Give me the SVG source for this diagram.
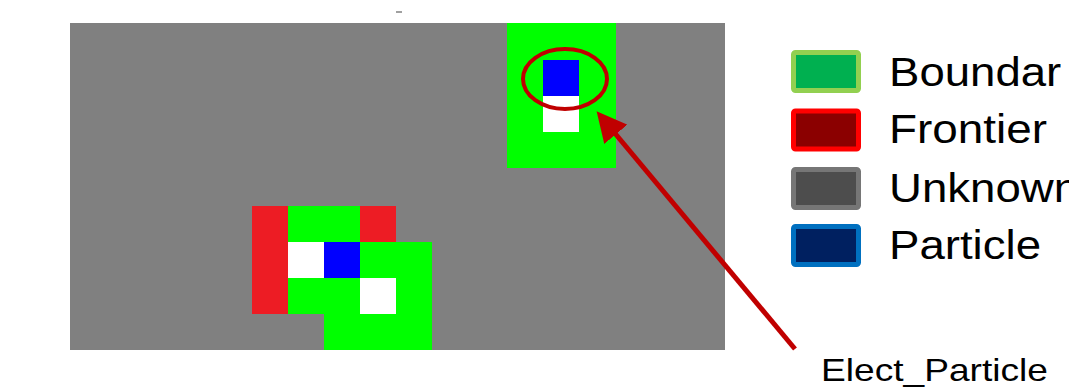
<svg xmlns="http://www.w3.org/2000/svg" width="1069" height="387" viewBox="0 0 1069 387">
<style>
.g{fill:#00ff00}.r{fill:#ed1c24}.w{fill:#ffffff}.b{fill:#0000ff}
.lg{stroke-width:5}
.t{font-family:"Liberation Sans",Arial,sans-serif;font-size:40px;fill:#000}
</style>
<defs>
<marker id="ah" markerWidth="6" markerHeight="6" refX="4" refY="3" orient="auto" markerUnits="strokeWidth">
<path d="M0,0 L6,3 L0,6 z" fill="#c00000"/>
</marker>
<clipPath id="clipB"><rect x="880" y="40" width="181" height="60"/></clipPath>
</defs>
<rect x="396" y="11" width="6" height="2" fill="#a0a0a0"/>
<g id="map">
<rect x="70" y="23" width="655" height="327" fill="#808080"/>
<rect class="g" x="507" y="23" width="109" height="145"/>
<rect class="b" x="543" y="60" width="36" height="36"/>
<rect class="w" x="543" y="96" width="36" height="36"/>
<rect class="r" x="252" y="206" width="36" height="108"/>
<rect class="g" x="288" y="206" width="72" height="36"/>
<rect class="r" x="360" y="206" width="36" height="36"/>
<rect class="w" x="288" y="242" width="36" height="36"/>
<rect class="b" x="324" y="242" width="36" height="36"/>
<rect class="g" x="360" y="242" width="72" height="36"/>
<rect class="g" x="288" y="278" width="72" height="36"/>
<rect class="w" x="360" y="278" width="36" height="36"/>
<rect class="g" x="396" y="278" width="36" height="36"/>
<rect class="g" x="324" y="314" width="108" height="36"/>
</g>
<g id="highlight">
<ellipse cx="565" cy="79" rx="42" ry="30" fill="none" stroke="#c00000" stroke-width="4"/>
</g>
<g id="connectors">
<line x1="795" y1="349" x2="603" y2="119" stroke="#c00000" stroke-width="5" marker-end="url(#ah)"/>
</g>
<g id="legend-boundary">
<rect class="lg" x="793.5" y="52.5" width="65" height="38" rx="2" fill="#00b050" stroke="#92d050"/>
<text class="t" x="889" y="86" textLength="195" lengthAdjust="spacingAndGlyphs" clip-path="url(#clipB)">Boundary</text>
</g>
<g id="legend-frontier">
<rect class="lg" x="793.5" y="111" width="65" height="38" rx="2" fill="#8b0000" stroke="#ff0000"/>
<text class="t" x="889" y="143" textLength="158" lengthAdjust="spacingAndGlyphs">Frontier</text>
</g>
<g id="legend-unknown">
<rect class="lg" x="793.5" y="169.5" width="65" height="38" rx="2" fill="#4d4d4d" stroke="#767676"/>
<text class="t" x="889" y="202" textLength="190" lengthAdjust="spacingAndGlyphs">Unknown</text>
</g>
<g id="legend-particle">
<rect class="lg" x="793.5" y="226.5" width="65" height="38" rx="2" fill="#002060" stroke="#0070c0"/>
<text class="t" x="889" y="259" textLength="152" lengthAdjust="spacingAndGlyphs">Particle</text>
</g>
<g id="label">
<text class="t" x="821" y="381" style="font-size:32px" textLength="227" lengthAdjust="spacingAndGlyphs">Elect_Particle</text>
</g>
</svg>
